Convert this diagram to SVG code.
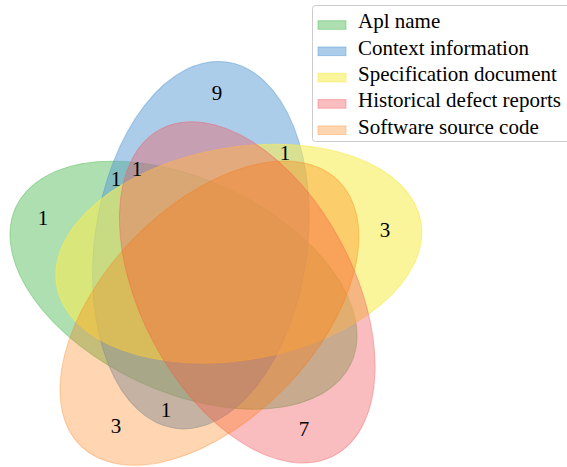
<svg xmlns="http://www.w3.org/2000/svg" width="567" height="467" viewBox="0 0 567 467">
  <style>
    .set { stroke-width: 1; }
    .green { fill: rgb(92,192,98); stroke: rgb(92,192,98); fill-opacity: 0.5; stroke-opacity: 0.5; }
    .blue { fill: rgb(90,155,212); stroke: rgb(90,155,212); fill-opacity: 0.5; stroke-opacity: 0.5; }
    .yellow { fill: rgb(246,236,86); stroke: rgb(246,236,86); fill-opacity: 0.6; stroke-opacity: 0.6; }
    .pink { fill: rgb(241,90,96); stroke: rgb(241,90,96); fill-opacity: 0.4; stroke-opacity: 0.4; }
    .orange { fill: rgb(255,117,0); stroke: rgb(255,117,0); fill-opacity: 0.3; stroke-opacity: 0.3; }
    .num { font-family: "Liberation Serif", "Times New Roman", serif; font-size: 21px; fill: #000; text-anchor: middle; }
    .leg { font-family: "Liberation Serif", "Times New Roman", serif; font-size: 21px; fill: #000; }
    .frame { fill: #ffffff; fill-opacity: 0.8; stroke: #cccccc; stroke-width: 1; }
  </style>
  <rect width="567" height="467" fill="#ffffff"/>

  <!-- five-set ellipses -->
  <g id="set-apl-name">
    <ellipse class="set green" cx="0" cy="0" rx="184.9" ry="106.25" transform="translate(183.5 285.2) rotate(-155)"/>
  </g>
  <g id="set-context-information">
    <ellipse class="set blue" cx="0" cy="0" rx="184.9" ry="106.25" transform="translate(200.9 245.2) rotate(-82)"/>
  </g>
  <g id="set-specification-document">
    <ellipse class="set yellow" cx="0" cy="0" rx="184.9" ry="106.25" transform="translate(238.8 253.7) rotate(-10)"/>
  </g>
  <g id="set-historical-defect-reports">
    <ellipse class="set pink" cx="0" cy="0" rx="184.9" ry="106.25" transform="translate(247.3 292.4) rotate(-118)"/>
  </g>
  <g id="set-software-source-code">
    <ellipse class="set orange" cx="0" cy="0" rx="184.9" ry="106.25" transform="translate(209.4 313.2) rotate(-46)"/>
  </g>

  <!-- region counts -->
  <g id="counts">
    <text class="num" x="217" y="100">9</text>
    <text class="num" x="43" y="225">1</text>
    <text class="num" x="385" y="237">3</text>
    <text class="num" x="304" y="436">7</text>
    <text class="num" x="116" y="433">3</text>
    <text class="num" x="166" y="417">1</text>
    <text class="num" x="116" y="186">1</text>
    <text class="num" x="137" y="176">1</text>
    <text class="num" x="285" y="160">1</text>
  </g>

  <!-- legend -->
  <g id="legend">
    <rect class="frame" x="312.5" y="5.5" width="262" height="136" rx="3"/>
    <g id="legend-apl-name">
      <rect class="green" x="318" y="20.7" width="28" height="8.6"/>
      <text class="leg" x="358" y="28.3">Apl name</text>
    </g>
    <g id="legend-context-information">
      <rect class="blue" x="318" y="47" width="28" height="8.6"/>
      <text class="leg" x="358" y="54.6">Context information</text>
    </g>
    <g id="legend-specification-document">
      <rect class="yellow" x="318" y="73.3" width="28" height="8.6"/>
      <text class="leg" x="358" y="80.9">Specification document</text>
    </g>
    <g id="legend-historical-defect-reports">
      <rect class="pink" x="318" y="99.6" width="28" height="8.6"/>
      <text class="leg" x="358" y="107.2">Historical defect reports</text>
    </g>
    <g id="legend-software-source-code">
      <rect class="orange" x="318" y="125.9" width="28" height="8.6"/>
      <text class="leg" x="358" y="133.5">Software source code</text>
    </g>
  </g>
</svg>
